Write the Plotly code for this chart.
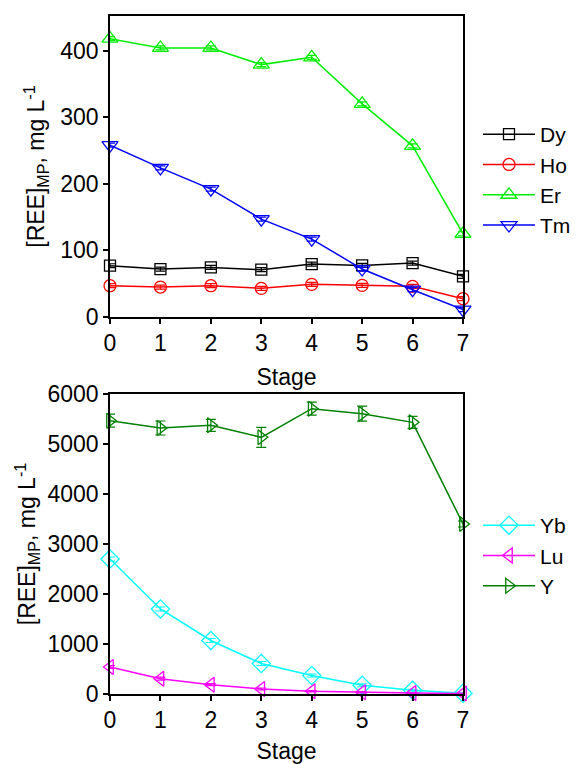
import plotly.graph_objects as go

# Stage index shared by every series
stages = [0, 1, 2, 3, 4, 5, 6, 7]

# Upper panel: REE concentration in the mother phase, mg/L
dy = [77, 72, 74.5, 71, 79.5, 77.5, 81, 61]
ho = [47, 45, 47, 43, 49, 47.5, 46, 27.5]
er = [418, 404, 404, 379, 390, 320, 257, 125]
tm = [258, 224, 192, 147, 117, 72, 41, 11]
err_top = [3, 3, 3, 3, 3, 3, 3, 3]

# Lower panel
yb = [2700, 1700, 1070, 610, 370, 175, 75, 15]
lu = [540, 307, 187, 100, 55, 33, 20, 8]
yy = [5467, 5320, 5373, 5133, 5707, 5607, 5433, 3400]
err_yb = [40, 40, 40, 40, 30, 30, 20, 10]
err_lu = [30, 30, 20, 20, 15, 10, 10, 5]
err_y = [130, 140, 120, 200, 130, 150, 120, 60]

FONT = "Liberation Sans, Arial, sans-serif"

fig = go.Figure()


def add_series(name, ys, errs, color, symbol, size, xaxis, yaxis, legend):
    fig.add_trace(go.Scatter(
        x=stages, y=ys, name=name, mode="lines+markers",
        line=dict(color=color, width=1.5),
        marker=dict(symbol=symbol, size=size, color=color,
                    line=dict(color=color, width=1.3)),
        error_y=dict(type="data", array=errs, visible=True,
                     color=color, thickness=1.2, width=5),
        xaxis=xaxis, yaxis=yaxis, legend=legend, cliponaxis=False,
    ))


add_series("Dy", dy, err_top, "#000000", "square-open", 11, "x", "y", "legend")
add_series("Ho", ho, err_top, "#FF0000", "circle-open", 12, "x", "y", "legend")
add_series("Er", er, err_top, "#00EE00", "triangle-up-open", 14, "x", "y", "legend")
add_series("Tm", tm, err_top, "#0000FF", "triangle-down-open", 14, "x", "y", "legend")

add_series("Yb", yb, err_yb, "#00FFFF", "diamond-open", 14, "x2", "y2", "legend2")
add_series("Lu", lu, err_lu, "#FF00FF", "triangle-left-open", 13, "x2", "y2", "legend2")
add_series("Y", yy, err_y, "#008000", "triangle-right-open", 13, "x2", "y2", "legend2")

W, H = 577, 764
xdom = [110 / W, 463 / W]

axis_common = dict(
    showline=True, linecolor="black", linewidth=1.5, mirror=True,
    ticks="outside", ticklen=5, tickwidth=1.5, tickcolor="black",
    showgrid=False, zeroline=False, automargin=False,
    tickfont=dict(family=FONT, size=23, color="black"),
    title_font=dict(family=FONT, size=23, color="black"),
)

ytitle = "[REE]<sub>MP</sub>, mg L<sup>-1</sup>"

legend_common = dict(
    xanchor="left", yanchor="top",
    font=dict(family=FONT, size=21, color="black"),
    bgcolor="rgba(0,0,0,0)", tracegroupgap=0, itemwidth=52,
)

fig.update_layout(
    width=W, height=H,
    margin=dict(l=0, r=0, t=0, b=0, autoexpand=False),
    paper_bgcolor="white", plot_bgcolor="white",
    font=dict(family=FONT, color="black"),
    xaxis=dict(domain=xdom, anchor="y", range=[0, 7], dtick=1,
               title=dict(text="Stage", standoff=14), **axis_common),
    yaxis=dict(domain=[1 - 317 / H, 1 - 16 / H], anchor="x",
               range=[0, 452], tickvals=[0, 100, 200, 300, 400],
               title=dict(text=ytitle, standoff=9), **axis_common),
    xaxis2=dict(domain=xdom, anchor="y2", range=[0, 7], dtick=1,
                title=dict(text="Stage", standoff=16), **axis_common),
    yaxis2=dict(domain=[1 - 694 / H, 1 - 394 / H], anchor="x2",
                range=[0, 6000], tickvals=[0, 1000, 2000, 3000, 4000, 5000, 6000],
                title=dict(text=ytitle, standoff=5), **axis_common),
    legend=dict(x=478 / W, y=1 - 114 / H, **legend_common),
    legend2=dict(x=478 / W, y=1 - 505 / H, **legend_common),
    showlegend=True,
)

fig.write_html("out.html")
